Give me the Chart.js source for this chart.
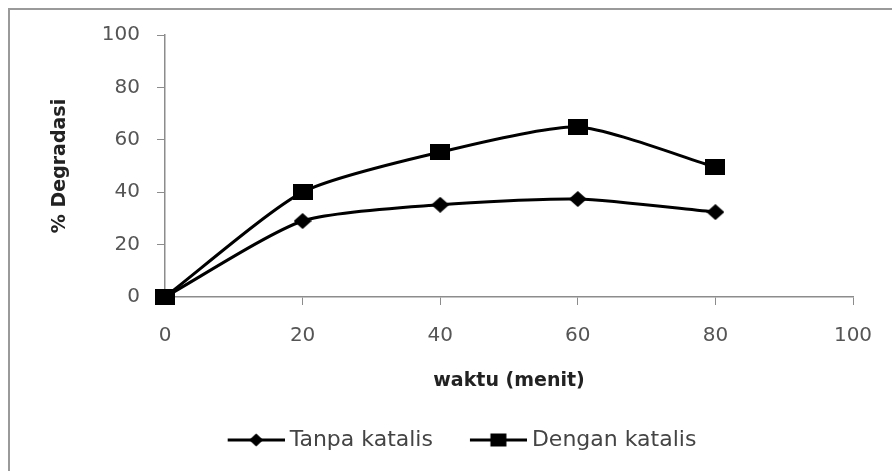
<!DOCTYPE html>
<html><head><meta charset="utf-8">
<script src="https://cdn.jsdelivr.net/npm/chart.js@4"></script>
<style>html,body{margin:0;padding:0;background:#fff;overflow:hidden}#wrap{width:892px;height:471px;position:relative}</style>
</head><body><div id="wrap"><canvas id="c" width="892" height="471"></canvas></div>
<script>
const waktu = [0, 20, 40, 60, 80];
const tanpaKatalis = [0, 29, 35.2, 37.4, 32.4];
const denganKatalis = [0, 40, 55.3, 64.9, 49.6];
const xTickValues = [0, 20, 40, 60, 80, 100];
const yTickValues = [0, 20, 40, 60, 80, 100];
const seriesNames = ['Tanpa katalis', 'Dengan katalis'];
const xTitle = 'waktu (menit)';
const yTitle = '% Degradasi';

const FONT = 'DejaVu Sans';

function drawMarker(g, kind, cx, cy, w, h) {
  g.fillStyle = '#000';
  g.beginPath();
  if (kind === 'diamond') {
    g.moveTo(cx - w / 2, cy); g.lineTo(cx, cy - h / 2); g.lineTo(cx + w / 2, cy); g.lineTo(cx, cy + h / 2); g.closePath();
  } else {
    g.rect(cx - w / 2, cy - h / 2, w, h);
  }
  g.fill();
}
function makeMarker(kind, w, h) {
  const c = document.createElement('canvas');
  c.width = w; c.height = h;
  drawMarker(c.getContext('2d'), kind, w / 2, h / 2, w, h);
  return c;
}
function makeIcon(kind) {
  const c = document.createElement('canvas');
  c.width = 90; c.height = 20;
  const g = c.getContext('2d');
  g.strokeStyle = '#000'; g.lineWidth = 3;
  g.beginPath(); g.moveTo(33, 10); g.lineTo(90, 10); g.stroke();
  if (kind === 'diamond') drawMarker(g, kind, 61.5, 10, 14, 13);
  else drawMarker(g, kind, 61.5, 10, 16, 13);
  return c;
}
const pointImgs = [makeMarker('diamond', 18, 16), makeMarker('square', 20, 16)];
const legendIcons = [makeIcon('diamond'), makeIcon('square')];

const framePlugin = {
  id: 'frame',
  beforeDraw(chart) {
    const ctx = chart.ctx;
    ctx.save();
    ctx.fillStyle = '#fff';
    ctx.fillRect(0, 0, chart.width, chart.height);
    ctx.strokeStyle = '#9a9a9a';
    ctx.lineWidth = 2;
    ctx.strokeRect(9, 9, 1000, 1000);
    ctx.restore();
  }
};

new Chart(document.getElementById('c'), {
  type: 'line',
  data: {
    datasets: [
      {
        label: seriesNames[0],
        data: waktu.map((x, i) => ({x: x, y: tanpaKatalis[i]})),
        borderColor: '#000', backgroundColor: '#000',
        borderWidth: 3, tension: 0.22,
        pointStyle: pointImgs[0], pointRadius: 8,
        clip: false
      },
      {
        label: seriesNames[1],
        data: waktu.map((x, i) => ({x: x, y: denganKatalis[i]})),
        borderColor: '#000', backgroundColor: '#000',
        borderWidth: 3, tension: 0.22,
        pointStyle: pointImgs[1], pointRadius: 10,
        clip: false
      }
    ]
  },
  options: {
    responsive: false,
    animation: false,
    events: [],
    layout: { padding: { left: 44, right: 39, top: 35, bottom: 10 } },
    scales: {
      x: {
        type: 'linear', min: 0, max: 100,
        afterBuildTicks(s) { s.ticks = xTickValues.map(v => ({value: v})); },
        afterFit(s) { s.height = 122; },
        grid: { drawOnChartArea: false, drawTicks: true, tickLength: 8, color: '#8c8c8c', lineWidth: 1 },
        border: { color: '#8c8c8c', width: 1.5 },
        ticks: { color: '#555', font: { family: FONT, size: 20 }, padding: 19, maxRotation: 0 },
        title: { display: true, text: xTitle, color: '#222', font: { family: FONT, size: 19, weight: 'bold', lineHeight: 1 }, padding: { top: 0, bottom: 28.5 } }
      },
      y: {
        type: 'linear', min: 0, max: 100,
        afterBuildTicks(s) { s.ticks = yTickValues.map(v => ({value: v})); },
        afterFit(s) { s.width = 121; },
        grid: { drawOnChartArea: false, drawTicks: true, tickLength: 8, color: '#8c8c8c', lineWidth: 1 },
        border: { color: '#8c8c8c', width: 1.5 },
        ticks: { color: '#555', font: { family: FONT, size: 20 }, padding: 17 },
        title: { display: true, text: yTitle, color: '#222', font: { family: FONT, size: 19, weight: 'bold', lineHeight: 1 }, padding: { top: 6.5, bottom: 0 } }
      }
    },
    plugins: {
      tooltip: { enabled: false },
      legend: {
        display: true,
        position: 'bottom',
        labels: {
          usePointStyle: true,
          pointStyleWidth: 78,
          padding: 10,
          color: '#444',
          font: { family: FONT, size: 22 },
          generateLabels(chart) {
            const items = Chart.defaults.plugins.legend.labels.generateLabels(chart);
            items.forEach((it, i) => { it.pointStyle = legendIcons[i]; it.rotation = 0; });
            return items;
          }
        }
      }
    }
  },
  plugins: [framePlugin]
});
</script>
</body></html>
